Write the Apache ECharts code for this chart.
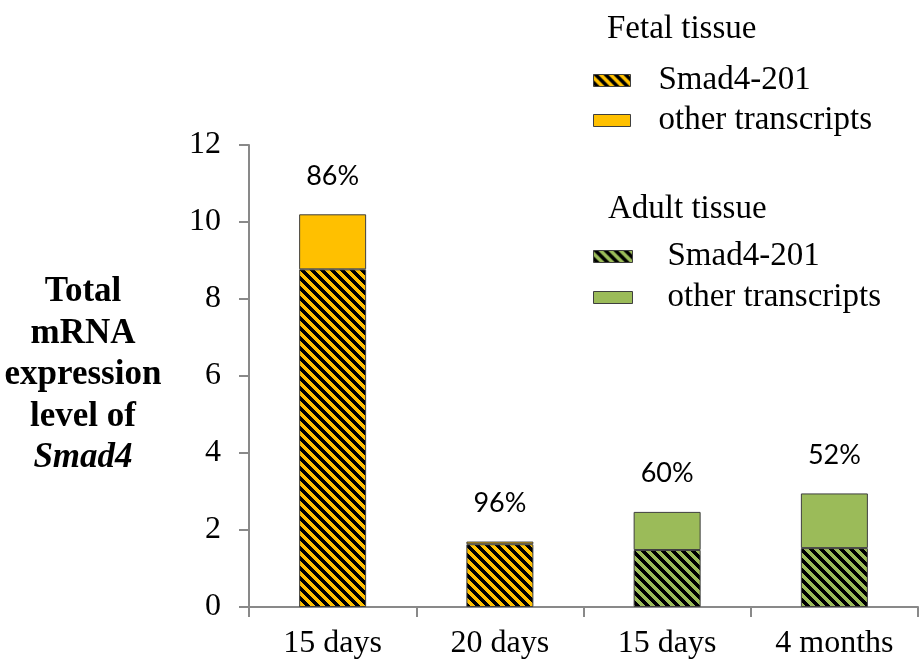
<!DOCTYPE html>
<html><head><meta charset="utf-8">
<script src="https://cdn.jsdelivr.net/npm/echarts@6/dist/echarts.min.js"></script>
<style>html,body{margin:0;padding:0;background:#fff}#c{width:919px;height:662px}</style>
</head><body><div id="c"></div>
<script>
const categories = ['15 days', '20 days', '15 days', '4 months'];
const fetalSmad = [8.77, 1.63, null, null];
const fetalOther = [1.43, 0.07, null, null];
const adultSmad = [null, null, 1.48, 1.53];
const adultOther = [null, null, 0.99, 1.42];
const pctLabels = ['86%', '96%', '60%', '52%'];
const yAxisTitleLines = ['Total', 'mRNA', 'expression', 'level of', 'Smad4'];

function hatch(col) {
  const p = 10, c = document.createElement('canvas');
  c.width = p; c.height = p;
  const ctx = c.getContext('2d');
  ctx.fillStyle = col; ctx.fillRect(0, 0, p, p);
  ctx.fillStyle = '#000';
  for (let y = 0; y < p; y++) for (let x = 0; x < p; x++) {
    if (((x - y) % p + p) % p < 5) ctx.fillRect(x, y, 1, 1);
  }
  return { image: c, repeat: 'repeat' };
}
const ORANGE = '#FFC000', GREEN = '#9BBB59';
const chart = echarts.init(document.getElementById('c'));
const serif = 'Liberation Serif';
const border = { borderColor: '#3f3f3f', borderWidth: 1 };
const dispName = n => n.replace(/^(Fetal|Adult) /, '');
const titleStyle = { fontFamily: serif, fontSize: 33, fontWeight: 'normal', color: '#000' };
const pctLabel = { show: true, position: 'top', distance: 25, formatter: p => pctLabels[p.dataIndex], fontFamily: 'Lato', fontSize: 27, color: '#000' };
chart.setOption({
  animation: false,
  grid: { left: 249, right: 1, top: 145, bottom: 55 },
  title: [
    { text: 'Fetal tissue', left: 607, top: 13, padding: 0, textStyle: titleStyle },
    { text: 'Adult tissue', left: 608, top: 193, padding: 0, textStyle: titleStyle }
  ],
  legend: [
    { data: ['Fetal Smad4-201', 'Fetal other transcripts'], orient: 'vertical', left: 593, top: 64, padding: 0,
      itemWidth: 37, itemHeight: 12, itemGap: 7, icon: 'rect',
      textStyle: { fontFamily: serif, fontSize: 33, color: '#000', padding: [0, 0, 0, 23] },
      formatter: dispName, selectedMode: false, itemStyle: { borderColor: '#3f3f3f', borderWidth: 1 } },
    { data: ['Adult Smad4-201', 'Adult other transcripts'], orient: 'vertical', left: 593, top: 240, padding: 0,
      itemWidth: 39, itemHeight: 12, itemGap: 8, icon: 'rect',
      textStyle: { fontFamily: serif, fontSize: 33, color: '#000', padding: [0, 0, 0, 30] },
      formatter: dispName, selectedMode: false, itemStyle: { borderColor: '#3f3f3f', borderWidth: 1 } }
  ],
  xAxis: {
    type: 'category', data: categories,
    axisLine: { lineStyle: { color: '#898989', width: 2 } },
    axisTick: { show: true, length: 10, lineStyle: { color: '#898989', width: 2 } },
    axisLabel: { fontFamily: serif, fontSize: 32, color: '#000', margin: 21 }
  },
  yAxis: {
    type: 'value', min: 0, max: 12, interval: 2,
    splitLine: { show: false },
    axisLine: { show: true, lineStyle: { color: '#898989', width: 2 } },
    axisTick: { show: true, length: 10, lineStyle: { color: '#898989', width: 2 } },
    axisLabel: { fontFamily: serif, fontSize: 32, color: '#000', margin: 28 }
  },
  graphic: yAxisTitleLines.map((t, i) => ({
    type: 'text', x: 83, y: 292 + i * 41.5,
    style: { text: t, align: 'center', verticalAlign: 'middle', fontFamily: serif, fontSize: 35,
      fontWeight: 'bold', fontStyle: i === 4 ? 'italic' : 'normal', fill: '#000' }
  })),
  series: [
    { name: 'Fetal Smad4-201', type: 'bar', stack: 's', barWidth: 67, data: fetalSmad, itemStyle: Object.assign({ color: hatch(ORANGE) }, border) },
    { name: 'Fetal other transcripts', type: 'bar', stack: 's', barWidth: 67, data: fetalOther, itemStyle: Object.assign({ color: ORANGE }, border), label: pctLabel },
    { name: 'Adult Smad4-201', type: 'bar', stack: 's', barWidth: 67, data: adultSmad, itemStyle: Object.assign({ color: hatch(GREEN) }, border) },
    { name: 'Adult other transcripts', type: 'bar', stack: 's', barWidth: 67, data: adultOther, itemStyle: Object.assign({ color: GREEN }, border), label: pctLabel }
  ]
});
</script></body></html>
